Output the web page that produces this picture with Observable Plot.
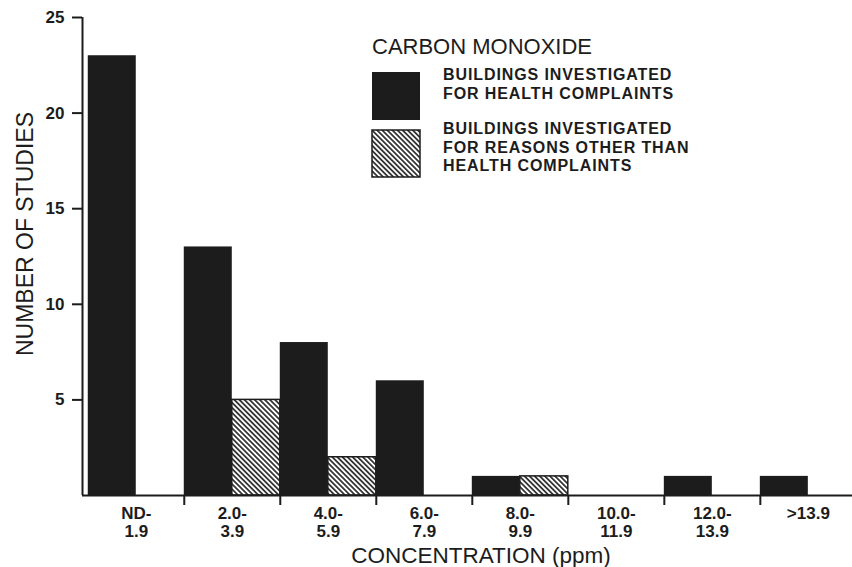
<!DOCTYPE html>
<html><head><meta charset="utf-8">
<script src="https://cdn.jsdelivr.net/npm/d3@7"></script>
<script src="https://cdn.jsdelivr.net/npm/@observablehq/plot@0.6"></script>
<style>html,body{margin:0;padding:0;background:#fff;} #chart svg{display:block}</style>
</head><body><div id="chart"></div>
<script>
// ---- data ----
const tickLabels = ["ND-\n1.9", "2.0-\n3.9", "4.0-\n5.9", "6.0-\n7.9", "8.0-\n9.9", "10.0-\n11.9", "12.0-\n13.9", ">13.9"];
const healthComplaints = [23, 13, 8, 6, 1, 0, 1, 1];
const otherReasons = [0, 5, 2, 0, 1, 0, 0, 0];
const yTicks = [5, 10, 15, 20, 25];
const seriesNames = [
  ["BUILDINGS INVESTIGATED", "FOR HEALTH COMPLAINTS"],
  ["BUILDINGS INVESTIGATED", "FOR REASONS OTHER THAN", "HEALTH COMPLAINTS"]
];
const legendTitle = "CARBON MONOXIDE";
const xTitle = "CONCENTRATION (ppm)";
const yTitle = "NUMBER OF STUDIES";

// ---- build ----
const table = tickLabels.map((label, i) => ({i, label, health: healthComplaints[i], other: otherReasons[i]}));
const boundaries = d3.range(1, tickLabels.length);
const font = "'Liberation Sans', Arial, Helvetica, sans-serif";
const ink = "#1c1c1c";
const xDomain = [-0.06, tickLabels.length - 0.04];

const chart = Plot.plot({
  width: 852, height: 567,
  marginLeft: 82, marginRight: 0, marginTop: 17, marginBottom: 72,
  style: {fontFamily: font, background: "#fff", color: ink, overflow: "visible"},
  x: {domain: xDomain},
  y: {domain: [0, 25]},
  marks: [
    Plot.rectY(table, {x1: "i", x2: d => d.i + 0.5, y: "health", fill: ink}),
    Plot.rectY(table.filter(d => d.other > 0), {x1: d => d.i + 0.5, x2: d => d.i + 1, y: "other", fill: "url(#hatch)", stroke: ink, strokeWidth: 1.5}),
    Plot.ruleY([0], {stroke: ink, strokeWidth: 2}),
    Plot.ruleX([xDomain[0]], {y1: 0, y2: d3.max(yTicks), stroke: ink, strokeWidth: 2}),
    Plot.axisY({ticks: yTicks, tickSize: 10, tickPadding: 8, fontSize: 17, fontWeight: "bold", label: null, strokeWidth: 2}),
    Plot.axisX({ticks: boundaries, tickSize: 10, tickFormat: () => "", label: null, strokeWidth: 2}),
    Plot.text(table, {x: d => d.i + 0.5, y: 0, text: "label", lineAnchor: "top", dy: 11, fontSize: 17, fontWeight: "bold", lineHeight: 1.05, letterSpacing: 0.4})
  ]
});
document.getElementById("chart").appendChild(chart);

const svg = d3.select(chart);
const defs = svg.insert("defs", ":first-child");
const pat = defs.append("pattern").attr("id", "hatch").attr("patternUnits", "userSpaceOnUse")
  .attr("width", 3.6).attr("height", 3.6).attr("patternTransform", "rotate(-45)");
pat.append("rect").attr("width", 3.6).attr("height", 3.6).attr("fill", "#fff");
pat.append("line").attr("x1", 1.8).attr("y1", 0).attr("x2", 1.8).attr("y2", 3.6).attr("stroke", ink).attr("stroke-width", 1.6);

// axis titles
svg.append("text").attr("transform", "translate(33,234) rotate(-90)").attr("text-anchor", "middle")
  .attr("font-size", 23).attr("font-family", font).attr("fill", ink).text(yTitle);
svg.append("text").attr("x", 481).attr("y", 563).attr("text-anchor", "middle")
  .attr("font-size", 22.5).attr("font-family", font).attr("fill", ink).text(xTitle);

// legend
const lg = svg.append("g").attr("font-family", font).attr("fill", ink).attr("text-anchor", "start");
lg.append("text").attr("x", 372).attr("y", 54).attr("font-size", 22).text(legendTitle);
lg.append("rect").attr("x", 372).attr("y", 72).attr("width", 48).attr("height", 48).attr("fill", ink);
lg.append("rect").attr("x", 372).attr("y", 130).attr("width", 48).attr("height", 47).attr("fill", "url(#hatch)").attr("stroke", ink).attr("stroke-width", 1.5);
const entryBaselines = [[80, 98.5], [134, 152.5, 171]];
seriesNames.forEach((lines, k) => {
  const t = lg.append("text").attr("font-size", 16).attr("font-weight", "bold").attr("letter-spacing", 0.9);
  lines.forEach((ln, j) => t.append("tspan").attr("x", 443).attr("y", entryBaselines[k][j]).text(ln));
});
</script>
</body></html>
